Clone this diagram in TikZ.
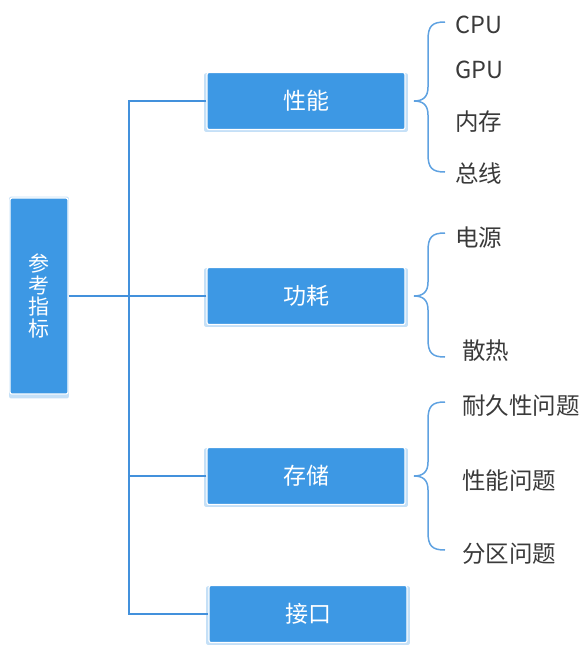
\documentclass[tikz,border=0pt]{standalone}
\usepackage{fontspec}
\setmainfont{Noto Sans CJK SC}
\usepackage{xcolor}
\usepackage{tikz}
\usetikzlibrary{shadows,positioning}
\definecolor{boxblue}{HTML}{3D98E4}
\definecolor{lineblue}{HTML}{4391DC}
\definecolor{leafgray}{HTML}{3A3A3A}
\tikzset{topic/.style={rectangle, rounded corners=2pt, fill=boxblue, draw=white, line width=1.2pt,
		general shadow={fill=boxblue!30, shadow scale=1.03, shadow yshift=-1.5pt},
		text=white, font=\fontsize{23}{22}\selectfont, minimum width=198pt, minimum height=57pt},
	leaf/.style={anchor=west, text=leafgray, font=\fontsize{23.5}{24}\selectfont, inner sep=0pt},
	link/.style={draw=lineblue, line width=1.5pt}}
\newcommand{\curly}[3]{% top, tip, bottom
	\draw[link, draw=lineblue!85] (445,#1) .. controls (432,#1) and (428,#1+4) .. (428,#1+18) -- (428,#2-14)
	.. controls (428,#2-4) and (423,#2) .. (414,#2) .. controls (423,#2) and (428,#2+4) .. (428,#2+14)
	-- (428,#3-18) .. controls (428,#3-4) and (432,#3) .. (445,#3);}

\begin{document}
\begin{tikzpicture}[x=1pt, y=-1pt]
	\useasboundingbox (0,0) rectangle (583,659);
	
	\node[topic, minimum width=58pt, minimum height=196pt, align=center, font=\fontsize{21}{21.5}\selectfont] (root) at (39,296) {参\\考\\指\\标};
	
	\node[topic] (perf) at (306,101) {性能};
	\node[topic] (power) at (306,296) {功耗};
	\node[topic] (store) at (306,476) {存储};
	\node[topic] (port) at (308,614) {接口};
	
	\coordinate (trunk) at (129,296);
	\draw[link] (root.east) -- (root.east -| trunk);
	\draw[link] (perf.west) -- (perf.west -| trunk) -- (port.west -| trunk) -- (port.west);
	\draw[link] (power.west) -- (power.west -| trunk);
	\draw[link] (store.west) -- (store.west -| trunk);
	
	\curly{22}{101}{172}
	\node[leaf] (cpu) at (455,25) {CPU};
	\node[leaf] (gpu) at (455,70) {GPU};
	\node[leaf] (mem) at (455,122) {内存};
	\node[leaf] (bus) at (455,174) {总线};
	
	\curly{233}{296}{357}
	\node[leaf] (psu) at (455,238) {电源};
	\node[leaf] (heat) at (462,351) {散热};
	
	\curly{402}{476}{550}
	\node[leaf] (dur) at (462,406) {耐久性问题};
	\node[leaf] (speed) at (462,481) {性能问题};
	\node[leaf] (part) at (462,554) {分区问题};
\end{tikzpicture}
\end{document}
